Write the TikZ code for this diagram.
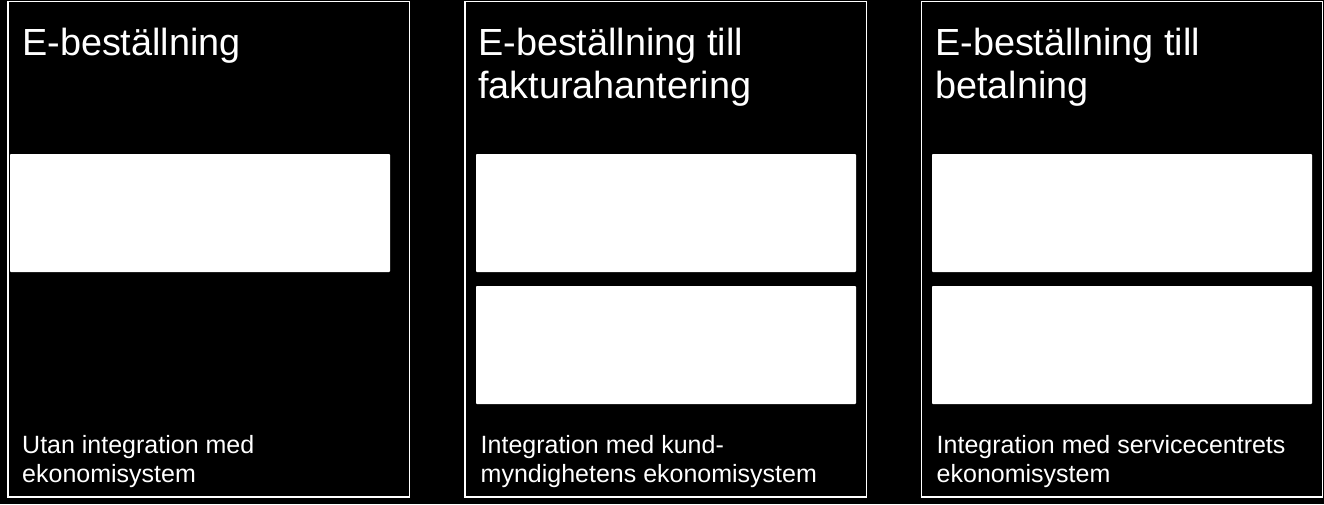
\documentclass[tikz,border=0pt]{standalone}
\usepackage{fontspec}
\setmainfont{Liberation Sans}
\begin{document}
\begin{tikzpicture}[x=1pt,y=-1pt,
  panel/.style={draw=white,line width=1.6pt},
  wbox/.style={fill=white,draw=none,rounded corners=0.8pt},
  title/.style={anchor=base west,inner sep=0pt,align=left,text=white,
    font=\fontsize{37.8}{43.5}\selectfont},
  foot/.style={anchor=base west,inner sep=0pt,align=left,text=white,
    font=\fontsize{25}{29}\selectfont}]
\fill[black] (0,0) rectangle (1324,504);
\useasboundingbox (0,0) rectangle (1324,504);
% panels
\draw[panel] (8,1.5) rectangle (409.5,496.8);
\draw[panel] (465,1.5) rectangle (866.5,496.8);
\draw[panel] (921.5,1.5) rectangle (1322.5,496.8);
% white boxes
\fill[wbox] (10,154) rectangle (390,272);
\fill[wbox] (476,154) rectangle (856,272);
\fill[wbox] (476,286) rectangle (856,404);
\fill[wbox] (932,154) rectangle (1312,272);
\fill[wbox] (932,286) rectangle (1312,404);
% titles (base anchor = baseline of the last line)
\node[title] (t1) at (22,55) {E-beställning};
\node[title] (t2) at (478,98.5) {E-beställning till\\fakturahantering};
\node[title] (t3) at (935,98.5) {E-beställning till\\betalning};
% footers
\node[foot] (f1) at (22,482.5) {Utan integration med\\ekonomisystem};
\node[foot] (f2) at (480.5,482.5) {Integration med kund-\\myndighetens ekonomisystem};
\node[foot] (f3) at (936.5,482.5) {Integration med servicecentrets\\ekonomisystem};
\end{tikzpicture}
\end{document}
